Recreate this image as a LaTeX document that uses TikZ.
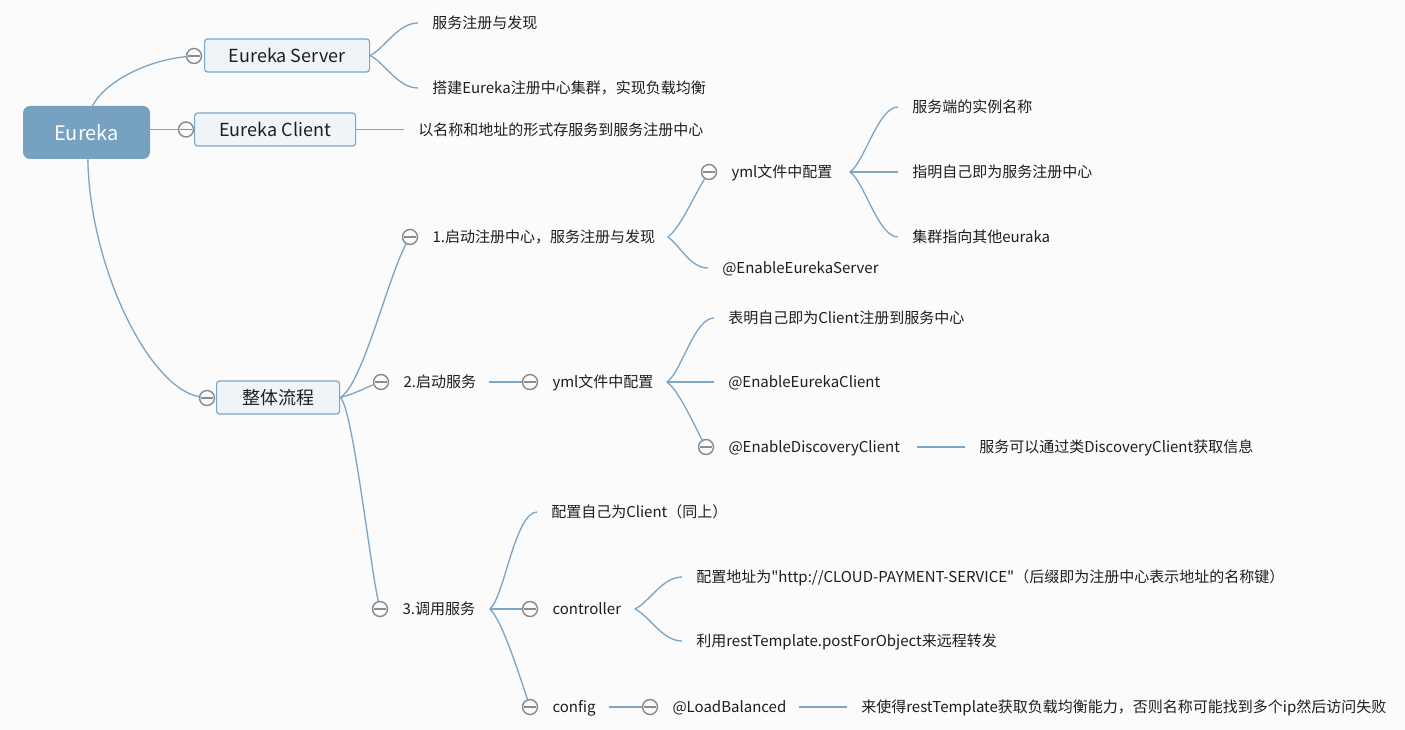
\documentclass[tikz,border=0pt]{standalone}
\usepackage{fontspec}
\setmainfont{Noto Sans CJK SC}[Ligatures=TeXOff]
\usetikzlibrary{calc}
\newdimen\pxu \pxu=0.75pt
\newcommand\fixbox[2]{\makebox[#1\pxu][l]{#2}}
\definecolor{bgc}{RGB}{251,251,251}
\definecolor{connc}{RGB}{124,166,200}
\definecolor{rootfill}{RGB}{118,161,193}
\definecolor{boxfill}{RGB}{239,244,248}
\definecolor{boxline}{RGB}{124,166,200}
\definecolor{circ}{RGB}{140,140,140}
\definecolor{txt}{RGB}{30,30,30}
\begin{document}
\begin{tikzpicture}[x=0.75pt,y=-0.75pt,
  cn/.style={draw=connc, line width=1pt},
  mk/.style={circle, draw=circ, line width=1.1pt, fill=bgc, minimum size=11.25pt, inner sep=0pt,
    path picture={\draw[circ, line width=1.1pt] ([xshift=0.9pt]path picture bounding box.west) -- ([xshift=-0.9pt]path picture bounding box.east);}},
  leaf/.style={anchor=west, inner xsep=10.5pt, inner ysep=1pt, text=txt,
    font=\fontsize{11.25pt}{13pt}\selectfont, text height=9.9pt, text depth=1.35pt},
  topic/.style={anchor=west, draw=boxline, fill=boxfill, rounded corners=2.25pt, line width=0.9pt,
    font=\fontsize{13.5pt}{16pt}\selectfont, text=txt, minimum height=24.75pt, inner sep=0pt,
    text height=11.9pt, text depth=1.6pt},
  rootn/.style={fill=rootfill, rounded corners=5.25pt, text=white, font=\fontsize{15pt}{18pt}\selectfont,
    minimum width=95.25pt, minimum height=39.75pt, inner sep=0pt, text height=13.2pt, text depth=1.8pt}
]
\fill[bgc] (0,0) rectangle (1405,730);
\useasboundingbox (0,0) rectangle (1405,730);

% ---------- topics ----------
\node[rootn] (root) at (86.5,132.5) {Eureka};

\node[mk] (cES) at (194,56) {};
\node[topic, minimum width=123.75pt] (ES) at (204,55.5) {Eureka Server};
\node[mk] (cEC) at (186,129.5) {};
\node[topic, minimum width=120.75pt] (EC) at (194,129.5) {Eureka Client};
\node[mk] (cZT) at (207,398) {};
\node[topic, minimum width=92.25pt] (ZT) at (216,397.5) {整体流程};

% ---------- Eureka Server / Client leaves ----------
\node[leaf] (tES1) at (418,23) {服务注册与发现};
\node[leaf] (tES2) at (418,88) {搭建Eureka注册中心集群，实现负载均衡};
\node[leaf] (tEC1) at (404,129.5) {以名称和地址的形式存服务到服务注册中心};

% ---------- 1 ----------
\node[mk] (c1) at (410,237) {};
\node[leaf] (t1) at (c1.east) {\fixbox{221}{1.启动注册中心，服务注册与发现}};
\node[mk] (cY1) at (709,172) {};
\node[leaf] (yml1) at (cY1.east) {\fixbox{104}{yml文件中配置}};
\node[leaf] (EES) at (708,268) {@EnableEurekaServer};
\node[leaf] (y1a) at (898,107) {服务端的实例名称};
\node[leaf] (y1b) at (898,172) {指明自己即为服务注册中心};
\node[leaf] (y1c) at (898,237) {集群指向其他euraka};

% ---------- 2 ----------
\node[mk] (c2) at (381,382) {};
\node[leaf] (t2) at (c2.east) {\fixbox{71}{2.启动服务}};
\node[mk] (cY2) at (530,382) {};
\node[leaf] (yml2) at (cY2.east) {\fixbox{100}{yml文件中配置}};
\node[leaf] (y2a) at (714,318) {表明自己即为Client注册到服务中心};
\node[leaf] (y2b) at (714,382) {@EnableEurekaClient};
\node[mk] (cEDC) at (706,447) {};
\node[leaf] (EDC) at (cEDC.east) {\fixbox{174}{@EnableDiscoveryClient}};
\node[leaf] (EDCd) at (965,447) {服务可以通过类DiscoveryClient获取信息};

% ---------- 3 ----------
\node[mk] (c3) at (380,609) {};
\node[leaf] (t3) at (c3.east) {\fixbox{73}{3.调用服务}};
\node[leaf] (t3a) at (537,512) {配置自己为Client（同上）};
\node[mk] (cCtl) at (530,609) {};
\node[leaf] (ctl) at (cCtl.east) {\fixbox{68}{controller}};
\node[leaf] (ca) at (682,577) {配置地址为"http://CLOUD-PAYMENT-SERVICE"（后缀即为注册中心表示地址的名称键）};
\node[leaf] (cb) at (682,641) {利用restTemplate.postForObject来远程转发};
\node[mk] (cCfg) at (530,707) {};
\node[leaf] (cfg) at (cCfg.east) {\fixbox{42}{config}};
\node[mk] (cLB) at (650,707) {};
\node[leaf] (LB) at (cLB.east) {\fixbox{112}{@LoadBalanced}};
\node[leaf] (LBd) at (847,707) {来使得restTemplate获取负载均衡能力，否则名称可能找到多个ip然后访问失败};

% ---------- connectors ----------
\draw[cn] ([xshift=4.5pt]root.north) .. controls +(14,-26) and +(-44,4) .. (cES);
\draw[cn] (root.east |- cEC) -- (cEC);
\draw[cn] ([xshift=1pt]root.south) .. controls +(2,110) and +(-57,-10) .. (cZT);

\draw[cn] (ES.east) .. controls +(15,-8) and +(-20,0) .. (tES1.west);
\draw[cn] (ES.east) .. controls +(15,8) and +(-20,0) .. (tES2.west);
\draw[cn] (EC.east) -- (tEC1.west);

\draw[cn] (ZT.east) .. controls +(22,-12) and +(-22,40) .. (c1);
\draw[cn] (ZT.east) .. controls +(16,-4) and +(-14,5) .. (c2);
\draw[cn] (ZT.east) .. controls +(12,8) and +(-10,-45) .. (c3);

\draw[cn] (t1.east) .. controls +(12,-8) and +(-14,22) .. (cY1);
\draw[cn] (t1.east) .. controls +(12,8) and +(-18,0) .. (EES.west);
\draw[cn] (yml1.east) .. controls +(14,-8) and +(-20,0) .. (y1a.west);
\draw[cn] (yml1.east) -- (y1b.west);
\draw[cn] (yml1.east) .. controls +(14,8) and +(-20,0) .. (y1c.west);

\draw[cn] (t2.east) -- (cY2);
\draw[cn] (yml2.east) .. controls +(14,-8) and +(-20,0) .. (y2a.west);
\draw[cn] (yml2.east) -- (y2b.west);
\draw[cn] (yml2.east) .. controls +(12,8) and +(-12,-22) .. (cEDC);
\draw[cn] (EDC.east) -- (EDCd.west);

\draw[cn] (t3.east) .. controls +(14,-10) and +(-22,0) .. (t3a.west);
\draw[cn] (t3.east) -- (cCtl);
\draw[cn] (t3.east) .. controls +(12,10) and +(-10,-30) .. (cCfg);
\draw[cn] (ctl.east) .. controls +(14,-6) and +(-20,0) .. (ca.west);
\draw[cn] (ctl.east) .. controls +(14,6) and +(-20,0) .. (cb.west);
\draw[cn] (cfg.east) -- (cLB);
\draw[cn] (LB.east) -- (LBd.west);
\end{tikzpicture}
\end{document}
